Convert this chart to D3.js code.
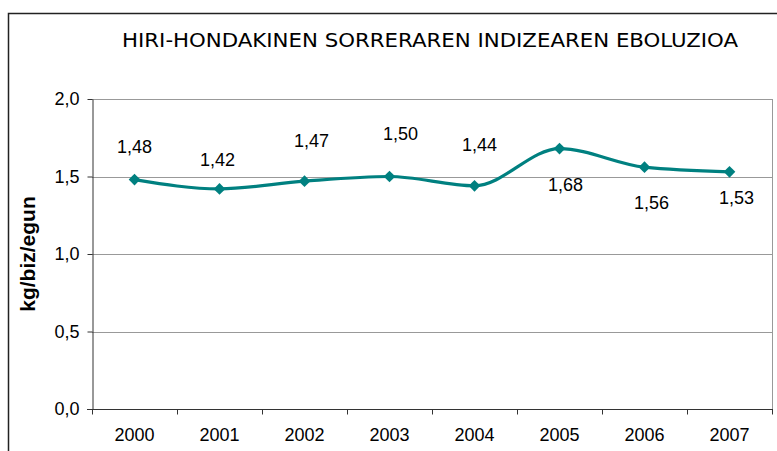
<!DOCTYPE html>
<html>
<head>
<meta charset="utf-8">
<script src="https://cdn.jsdelivr.net/npm/d3@7"></script>
<style>
    html, body { margin: 0; padding: 0; background: #fff; }
    svg { display: block; }
</style>
</head>
<body>
<div id="chart"></div>
<script>
// ============================================
// Hiri-hondakinen sorreraren indizea (kg/biz/egun)
// ============================================

const years = ['2000', '2001', '2002', '2003', '2004', '2005', '2006', '2007'];
const values = [1.48, 1.42, 1.47, 1.50, 1.44, 1.68, 1.56, 1.53];
const yTicks = [0, 0.5, 1.0, 1.5, 2.0];

// label placement (px offset from the marker), hand-placed like the source
const labelDx = [0, -2, 7, 11, 5, 6, 7, 7];
const labelDy = [-33, -29, -40, -43, -41, 36, 35, 26];

const width = 777;
const height = 451;
const plot = { left: 92, right: 772, top: 99, bottom: 409 };
const teal = '#008080';
const font = '"Liberation Sans", Arial, sans-serif';
const fmt = v => d3.format('.2f')(v).replace('.', ',');

const svg = d3.select('#chart')
    .append('svg')
    .attr('width', width)
    .attr('height', height);

// Outer frame (runs off the right and bottom edges)
svg.append('rect')
    .attr('x', 8.5)
    .attr('y', 13.5)
    .attr('width', 800)
    .attr('height', 500)
    .attr('fill', 'none')
    .attr('stroke', '#222')
    .attr('stroke-width', 1.5);

// Title
svg.append('text')
    .attr('x', 430)
    .attr('y', 47)
    .attr('text-anchor', 'middle')
    .attr('textLength', 616)
    .attr('lengthAdjust', 'spacingAndGlyphs')
    .style('font-family', '"Liberation Sans Narrow", "DejaVu Sans Condensed", sans-serif')
    .style('font-size', '20px')
    .style('fill', '#000')
    .text('HIRI-HONDAKINEN SORRERAREN INDIZEAREN EBOLUZIOA');

const x = d3.scaleBand()
    .domain(years)
    .range([plot.left, plot.right]);

const y = d3.scaleLinear()
    .domain([0, 2])
    .range([plot.bottom, plot.top]);

// Gridlines
svg.append('g')
    .selectAll('line')
    .data(yTicks.filter(d => d > 0))
    .join('line')
    .attr('x1', plot.left)
    .attr('x2', plot.right)
    .attr('y1', d => Math.round(y(d)) + 0.5)
    .attr('y2', d => Math.round(y(d)) + 0.5)
    .attr('stroke', '#999')
    .attr('stroke-width', 1);

// Right border of the plot area
svg.append('line')
    .attr('x1', plot.right + 0.5)
    .attr('x2', plot.right + 0.5)
    .attr('y1', plot.top)
    .attr('y2', plot.bottom)
    .attr('stroke', '#999');

// Y axis
const yAxis = svg.append('g')
    .attr('transform', `translate(${plot.left + 0.5},0)`)
    .call(d3.axisLeft(y)
        .tickValues(yTicks)
        .tickFormat(d => d3.format('.1f')(d).replace('.', ','))
        .tickSize(5)
        .tickPadding(8)
        .tickSizeOuter(0));

yAxis.select('.domain').attr('stroke', '#333');
yAxis.selectAll('.tick line').attr('stroke', '#333');
yAxis.selectAll('text')
    .style('font-family', font)
    .style('font-size', '18px')
    .style('fill', '#000');

// X axis: ticks between categories
const xAxisG = svg.append('g')
    .attr('transform', `translate(0,${plot.bottom + 0.5})`);

xAxisG.append('line')
    .attr('x1', plot.left - 5)
    .attr('x2', plot.right + 1)
    .attr('stroke', '#333');

const boundaries = d3.range(years.length + 1).map(i => plot.left + i * x.step());

xAxisG.selectAll('line.tick')
    .data(boundaries)
    .join('line')
    .attr('class', 'tick')
    .attr('x1', d => Math.round(d) + 0.5)
    .attr('x2', d => Math.round(d) + 0.5)
    .attr('y1', 0)
    .attr('y2', 5)
    .attr('stroke', '#333');

xAxisG.selectAll('text')
    .data(years)
    .join('text')
    .attr('x', d => x(d) + x.bandwidth() / 2)
    .attr('y', 31)
    .attr('text-anchor', 'middle')
    .style('font-family', font)
    .style('font-size', '18px')
    .style('fill', '#000')
    .text(d => d);

// Y axis title
svg.append('text')
    .attr('transform', `translate(35,${(plot.top + plot.bottom) / 2}) rotate(-90)`)
    .attr('text-anchor', 'middle')
    .style('font-family', font)
    .style('font-size', '21px')
    .style('font-weight', 'bold')
    .style('fill', '#000')
    .text('kg/biz/egun');

// Series
const points = years.map((yr, i) => ({
    year: yr,
    value: values[i],
    dx: labelDx[i],
    dy: labelDy[i]
}));

const line = d3.line()
    .x(d => x(d.year) + x.bandwidth() / 2)
    .y(d => y(d.value))
    .curve(d3.curveMonotoneX);

svg.append('path')
    .datum(points)
    .attr('d', line)
    .attr('fill', 'none')
    .attr('stroke', teal)
    .attr('stroke-width', 3.2)
    .attr('stroke-linejoin', 'round');

svg.append('g')
    .selectAll('path')
    .data(points)
    .join('path')
    .attr('d', d3.symbol().type(d3.symbolSquare).size(68))
    .attr('transform', d => `translate(${x(d.year) + x.bandwidth() / 2},${y(d.value)}) rotate(45)`)
    .attr('fill', teal);

// Data labels
svg.append('g')
    .selectAll('text')
    .data(points)
    .join('text')
    .attr('x', d => x(d.year) + x.bandwidth() / 2 + d.dx)
    .attr('y', d => y(d.value) + d.dy)
    .attr('dy', '0.35em')
    .attr('text-anchor', 'middle')
    .style('font-family', font)
    .style('font-size', '18px')
    .style('fill', '#000')
    .text(d => fmt(d.value));
</script>
</body>
</html>
